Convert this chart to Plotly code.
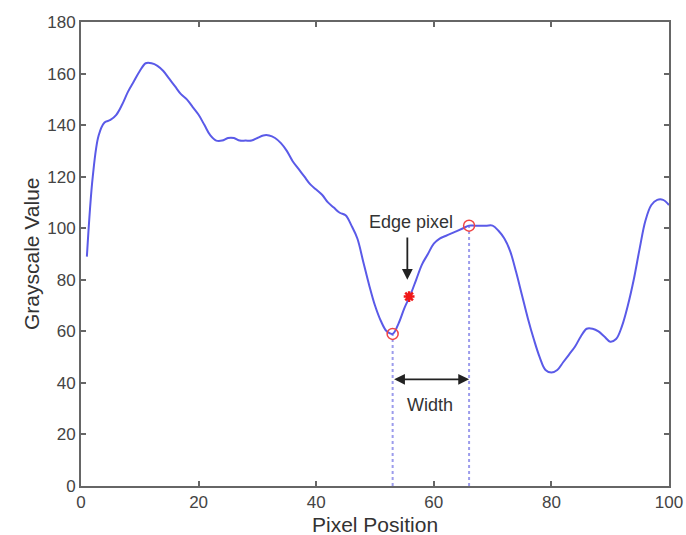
import plotly.graph_objects as go

pixel_pos = list(range(1, 101))
gray_vals = [89, 120, 136, 141, 142, 144, 148, 153, 157, 161,
             164, 164, 163, 161, 158, 155, 152, 150, 147, 144,
             140, 136, 134, 134, 135, 135, 134, 134, 134, 135,
             136, 136, 135, 133, 130, 126, 123, 120, 117, 115,
             113, 110, 108, 106, 105, 101, 96, 87, 78, 70,
             64, 60, 59, 63, 69, 74, 80, 86, 90, 94,
             96, 97, 98, 99, 100, 101, 101, 101, 101, 101,
             99, 96, 91, 83, 74, 65, 57, 50, 45, 44,
             45, 48, 51, 54, 58, 61, 61, 60, 58, 56,
             57, 62, 70, 80, 92, 103, 109, 111, 111, 109]

circle_x = [53, 66]
circle_y = [59, 101]
edge_x = [55.8]
edge_y = [73.5]

x_ticks = [0, 20, 40, 60, 80, 100]
y_ticks = [0, 20, 40, 60, 80, 100, 120, 140, 160, 180]

font_fam = "Liberation Sans, Arial, sans-serif"
fig = go.Figure()

for cx, cy in zip(circle_x, circle_y):
    fig.add_trace(go.Scatter(x=[cx, cx], y=[0, cy], mode="lines",
                             line=dict(color="#9c9cec", width=2, dash="dot"),
                             showlegend=False, hoverinfo="skip"))

fig.add_trace(go.Scatter(x=pixel_pos, y=gray_vals, mode="lines",
                         line=dict(color="#5a5ae8", width=2, shape="spline"),
                         showlegend=False))
fig.add_trace(go.Scatter(x=circle_x, y=circle_y, mode="markers",
                         marker=dict(symbol="circle-open", size=11, color="#f04545",
                                     line=dict(color="#f04545", width=1.5)),
                         showlegend=False))
fig.add_trace(go.Scatter(x=edge_x, y=edge_y, mode="markers",
                         marker=dict(symbol="asterisk-open", size=9, color="#f01818",
                                     line=dict(color="#f01818", width=2.5)),
                         showlegend=False))

# Edge pixel label and arrow
fig.add_annotation(x=56.1, y=102.5, text="Edge pixel", showarrow=False,
                   font=dict(family=font_fam, size=18, color="#333"))
fig.add_annotation(x=55.5, y=80, ax=55.5, ay=97, axref="x", ayref="y",
                   xref="x", yref="y", text="", showarrow=True,
                   arrowhead=2, arrowsize=1.2, arrowwidth=1.8, arrowcolor="#222")
# Width double arrow
fig.add_annotation(x=66, y=41.4, ax=53, ay=41.4, axref="x", ayref="y",
                   xref="x", yref="y", text="", showarrow=True,
                   arrowhead=2, startarrowhead=2, arrowside="end+start",
                   arrowsize=1.2, startarrowsize=1.2, arrowwidth=1.8,
                   arrowcolor="#222")
fig.add_annotation(x=59.3, y=31.5, text="Width", showarrow=False,
                   font=dict(family=font_fam, size=18, color="#333"))

# Axis titles as annotations for precise placement
fig.add_annotation(x=0.5, y=-0.082, xref="paper", yref="paper",
                   text="Pixel Position", showarrow=False,
                   xanchor="center", yanchor="middle",
                   font=dict(family=font_fam, size=21, color="#333"))
fig.add_annotation(x=-0.085, y=0.5, xref="paper", yref="paper",
                   text="Grayscale Value", showarrow=False, textangle=-90,
                   xanchor="center", yanchor="middle",
                   font=dict(family=font_fam, size=21, color="#333"))

axis_common = dict(showline=True, linecolor="#666", linewidth=2, mirror="ticks",
                   ticks="inside", ticklen=5, tickcolor="#666", tickwidth=1.5,
                   showgrid=False, zeroline=False, automargin=False,
                   tickfont=dict(family=font_fam, size=17, color="#444"))

fig.update_layout(
    width=686, height=535,
    margin=dict(l=81, r=17, t=22, b=49),
    paper_bgcolor="white", plot_bgcolor="white",
    xaxis=dict(range=[0, 100], tickvals=x_ticks, **axis_common),
    yaxis=dict(range=[0, 180], tickvals=y_ticks, **axis_common),
)

fig.write_html("out.html")
